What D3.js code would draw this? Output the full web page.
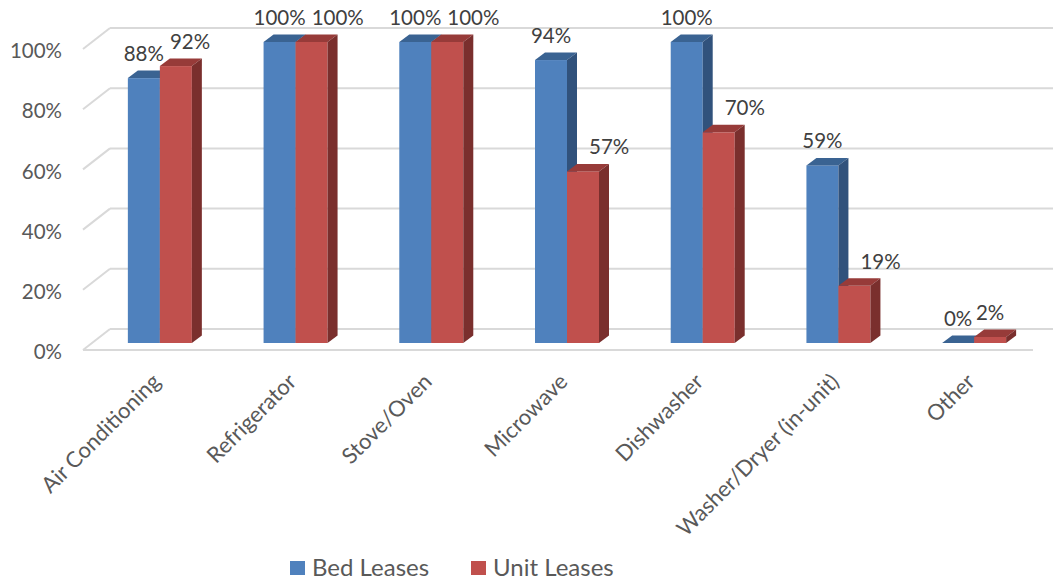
<!DOCTYPE html>
<html>
<head>
<meta charset="utf-8">
<script src="https://cdn.jsdelivr.net/npm/d3@7"></script>
<style>
  html, body { margin: 0; padding: 0; background: #ffffff; }
  svg { display: block; font-family: Lato, "Open Sans", sans-serif; }
</style>
</head>
<body>
<svg id="chart" width="1053" height="580"></svg>
<script>
// ---- data ----
const categories = ["Air Conditioning", "Refrigerator", "Stove/Oven", "Microwave", "Dishwasher", "Washer/Dryer (in-unit)", "Other"];
const bedLeases  = [88, 100, 100, 94, 100, 59, 0];
const unitLeases = [92, 100, 100, 57, 70, 19, 2];
const seriesNames = ["Bed Leases", "Unit Leases"];
const yTicks = [0, 20, 40, 60, 80, 100];

// ---- layout / style ----
const W = 1053, H = 580;
const floorFront = { x0: 83, x1: 1033, y0: 350, y100: 49 };
const wallDepth = { dx: 27, dy: -21 };
const barOffset = { dx: 9, dy: -7 };
const barDepth = { dx: 10, dy: -7.5 };
const barW = 32;
const colors = {
  front: ["#4F81BD", "#C0504D"],
  top:   ["#3A6392", "#973B39"],
  side:  ["#31527C", "#7A2F2D"]
};

const svg = d3.select("#chart");
svg.append("rect").attr("width", W).attr("height", H).attr("fill", "#ffffff");

const x = d3.scaleBand().domain(categories).range([floorFront.x0, floorFront.x1]).paddingInner(0).paddingOuter(0);
const yFront = d3.scaleLinear().domain([0, 100]).range([floorFront.y0, floorFront.y100]);
const yBar = d3.scaleLinear().domain([0, 100]).range([floorFront.y0 + barOffset.dy, floorFront.y100 + barOffset.dy]);

// ---- gridlines (back wall + side wall diagonals) ----
const grid = svg.append("g").attr("stroke", "#D9D9D9").attr("stroke-width", 2).attr("fill", "none");
yTicks.forEach(t => {
  const yf = yFront(t), yb = yf + wallDepth.dy;
  grid.append("line")
    .attr("x1", floorFront.x0 + wallDepth.dx).attr("x2", floorFront.x1 + wallDepth.dx)
    .attr("y1", yb).attr("y2", yb);
  grid.append("line")
    .attr("x1", floorFront.x0).attr("y1", yf)
    .attr("x2", floorFront.x0 + wallDepth.dx).attr("y2", yb);
});
// front floor edge
grid.append("line")
  .attr("x1", floorFront.x0).attr("x2", floorFront.x1)
  .attr("y1", yFront(0)).attr("y2", yFront(0));

// ---- y-axis labels ----
svg.append("g").selectAll("text").data(yTicks).join("text")
  .attr("x", 62).attr("y", d => yFront(d) + 2)
  .attr("dy", "0.35em")
  .attr("text-anchor", "end")
  .attr("font-size", 20.5)
  .attr("fill", "#595959")
  .text(d => d + "%");

// ---- bars ----
const barsG = svg.append("g");
const series = [bedLeases, unitLeases];
const barGeom = [];
categories.forEach((c, i) => {
  const center = x(c) + x.bandwidth() / 2 + barOffset.dx;
  const g = [];
  series.forEach((vals, s) => {
    const x0 = center - barW + s * barW, x1 = x0 + barW;
    const yt = yBar(vals[i]), yb = yBar(0);
    const dx = barDepth.dx, dy = barDepth.dy;
    const bg = barsG.append("g");
    bg.append("rect").attr("x", x0).attr("y", yt).attr("width", barW).attr("height", yb - yt)
      .attr("fill", colors.front[s]);
    bg.append("polygon")
      .attr("points", [[x0, yt], [x1, yt], [x1 + dx, yt + dy], [x0 + dx, yt + dy]].map(p => p.join(",")).join(" "))
      .attr("fill", colors.top[s]);
    bg.append("polygon")
      .attr("points", [[x1, yt], [x1 + dx, yt + dy], [x1 + dx, yb + dy], [x1, yb]].map(p => p.join(",")).join(" "))
      .attr("fill", colors.side[s]);
    g.push({ x0, x1, yt, cx: (x0 + x1) / 2, v: vals[i] });
  });
  barGeom.push(g);
});

// ---- data labels ----
const labG = svg.append("g").attr("font-size", 20.5).attr("fill", "#404040").attr("text-anchor", "middle");
barGeom.forEach((g, i) => {
  const b = g[0], r = g[1];
  const bt = labG.append("text").attr("x", b.cx).attr("y", b.yt - 17).text(b.v + "%");
  const wb = bt.node().getComputedTextLength();
  const rt = labG.append("text").attr("x", r.cx).attr("y", r.yt - 17).text(r.v + "%");
  const wr = rt.node().getComputedTextLength();
  let left = r.cx - wr / 2;
  let need = left;
  const yB = b.yt - 17, yR = r.yt - 17;
  if (Math.abs(yB - yR) < 20 && left < b.cx + wb / 2) need = Math.max(need, b.cx + wb / 2 + 6);
  if (b.yt + barDepth.dy < yR && left < b.x1 + barDepth.dx) need = Math.max(need, b.x1 + barDepth.dx + 12);
  if (need !== left) rt.attr("x", need + wr / 2);
});

// ---- category labels ----
svg.append("g").selectAll("text").data(categories).join("text")
  .attr("transform", d => `translate(${x(d) + x.bandwidth() / 2 + barOffset.dx + 2},383) rotate(-45)`)
  .attr("text-anchor", "end")
  .attr("font-size", 22)
  .attr("fill", "#595959")
  .text(d => d);

// ---- legend ----
const legendPos = [290, 471];
const lg = svg.append("g");
seriesNames.forEach((n, s) => {
  lg.append("rect").attr("x", legendPos[s]).attr("y", 561).attr("width", 15).attr("height", 14).attr("fill", colors.front[s]);
  lg.append("text").attr("x", legendPos[s] + 22).attr("y", 568).attr("dy", "0.35em")
    .attr("font-size", 24).attr("fill", "#595959").text(n);
});
</script>
</body>
</html>
